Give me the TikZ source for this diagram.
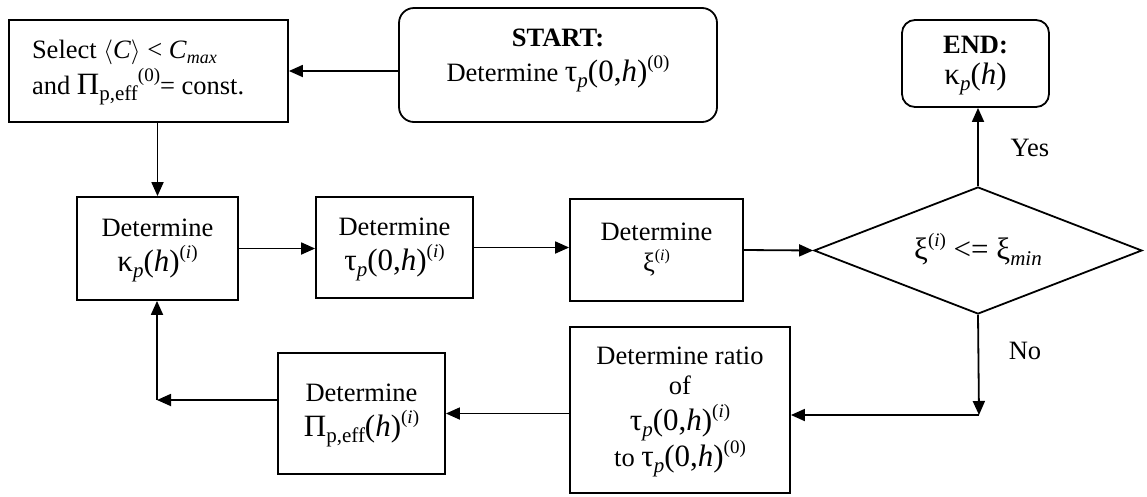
\documentclass[tikz,border=0pt]{standalone}
\usepackage{fontspec}
\setmainfont{Liberation Serif}
\usetikzlibrary{shapes.geometric,arrows.meta}
\newcommand\hs[2][c]{{\fontsize{26.5}{30.5}\selectfont\begin{tabular}{@{}#1@{}}#2\end{tabular}}}
\newcommand\mth[1]{{\fontsize{31}{32}\selectfont #1}}
\newcommand\msup[1]{\raisebox{13pt}{\fontsize{19}{19}\selectfont #1}}
\newcommand\msub[1]{\raisebox{-6pt}{\fontsize{21}{21}\selectfont #1}}
\newcommand\tsub[1]{\raisebox{-5pt}{\fontsize{18}{18}\selectfont #1}}
\newcommand\tsup[1]{\raisebox{11pt}{\fontsize{16}{16}\selectfont #1}}
\begin{document}
\begin{tikzpicture}[x=1pt,y=-1pt,
  box/.style={draw,line width=1.8pt,inner sep=0pt,align=center},
  arr/.style={line width=1.8pt,-{Triangle[length=14pt,width=12pt]}},
  lbl/.style={inner sep=0pt}]
\useasboundingbox (0,0) rectangle (1147,496);
\node[box,minimum width=279pt,minimum height=102pt] (sel) at (148.5,71)
  {\makebox[233pt][l]{\hs[l]{Select $\langle$\textit{C}$\rangle$ < \textit{C}\tsub{\textit{max}}\\and \mth{Π}\msub{p,eff}\msup{(0)}= const.}}};
\node[box,rounded corners=15pt,minimum width=318pt,minimum height=114pt] (start) at (558,65)
  {\hs{\textbf{START:}\\Determine \mth{τ\msub{\textit{p}}(0,\textit{h})\msup{(0)}}\\[14pt]}};
\node[box,rounded corners=13pt,minimum width=147pt,minimum height=87pt] (endn) at (975.5,63.5)
  {\hs{\textbf{END:}\\\mth{κ\msub{\textit{p}}(\textit{h})}}};
\node[box,minimum width=161pt,minimum height=103pt] (kap) at (157.5,248.5)
  {\hs{Determine\\\mth{κ\msub{\textit{p}}(\textit{h})\msup{(\textit{i})}}}};
\node[box,minimum width=157pt,minimum height=101pt] (tau) at (394.5,247.5)
  {\hs{Determine\\\mth{τ\msub{\textit{p}}(0,\textit{h})\msup{(\textit{i})}}}};
\node[box,minimum width=173pt,minimum height=102pt] (xi) at (656.5,250)
  {\hs{Determine\\ξ\tsup{(\textit{i})}}};
\node[box,diamond,aspect=2.58,minimum width=328pt,minimum height=127pt] (dia) at (978,250.5)
  {\hs{\mth{ξ\msup{(\textit{i})} <= ξ\msub{\textit{min}}}}};
\node[box,minimum width=220pt,minimum height=166pt] (ratio) at (680,410)
  {\hs{Determine ratio\\of\\\mth{τ\msub{\textit{p}}(0,\textit{h})\msup{(\textit{i})}}\\to \mth{τ\msub{\textit{p}}(0,\textit{h})\msup{(0)}}}};
\node[box,minimum width=167pt,minimum height=121pt] (pi) at (361.5,413.5)
  {\hs{Determine\\\mth{Π\msub{p,eff}(\textit{h})\msup{(\textit{i})}}}};
\coordinate (c1) at (979,415);
\coordinate (c2) at (157,400);
\node[lbl] (yes) at (1030,150) {\hs{Yes}};
\node[lbl] (no) at (1025,353) {\hs{No}};
\draw[arr] (start.west |- sel.east) -- (sel.east);
\draw[arr] (sel.south -| kap.north) -- (kap.north);
\draw[arr] (kap.east) -- (kap.east -| tau.west);
\draw[arr] (tau.east) -- (tau.east -| xi.west);
\draw[arr] (xi.east) -- (dia.west);
\draw[arr] (dia.north) -- (dia.north |- endn.south);
\draw[arr] (dia.south) -- (c1);
\draw[arr] (c1) -- (c1 -| ratio.east);
\draw[arr] (ratio.west |- pi.east) -- (pi.east);
\draw[arr] (pi.west |- c2) -- (c2);
\draw[arr] (c2) -- (c2 |- kap.south);
\end{tikzpicture}
\end{document}
